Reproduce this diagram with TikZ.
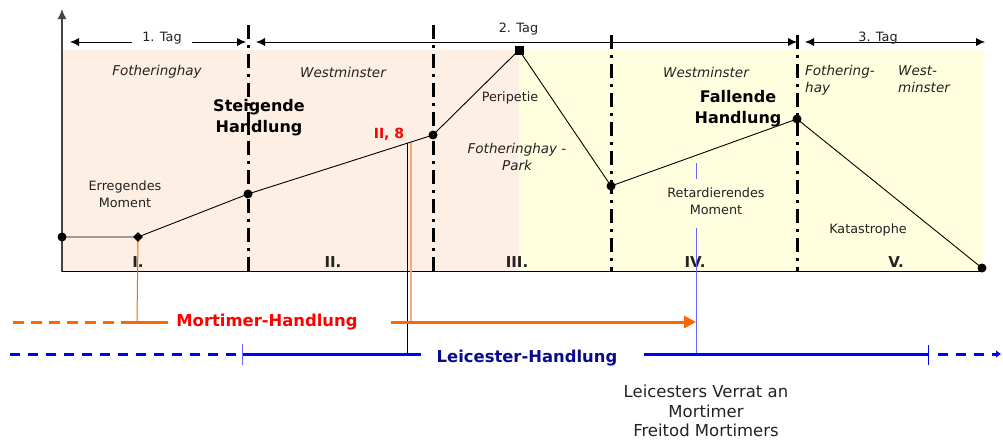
\documentclass[tikz,border=0pt]{standalone}
\usepackage{fontspec}
\setmainfont{DejaVu Sans}
\usetikzlibrary{arrows.meta}
\definecolor{peach}{HTML}{FDEFE3}
\definecolor{pale}{HTML}{FFFFE0}
\definecolor{morange}{HTML}{FF6600}
\definecolor{lorange}{HTML}{F6A878}
\definecolor{lblue}{HTML}{6666FF}
\definecolor{navy}{HTML}{0A0A8C}
\definecolor{txt}{HTML}{222222}
\definecolor{axisgray}{HTML}{444444}
\tikzset{
  divider/.style={line width=3pt, dash pattern=on 14pt off 6pt on 3pt off 6pt},
  curve/.style={line width=0.9pt},
  dot/.style={circle, fill, inner sep=0, minimum size=9pt},
  lbl/.style={font=\fontsize{12.8}{17}\selectfont, text=txt, align=center, inner sep=0},
  place/.style={font=\fontsize{13.5}{17}\selectfont\itshape, text=txt, inner sep=0},
  head/.style={font=\fontsize{16}{21}\selectfont\bfseries, align=center, inner sep=0},
  act/.style={font=\fontsize{15}{16}\selectfont\bfseries, text=txt, inner sep=0},
  dayarrow/.style={{Latex[length=9pt,width=8pt]}-{Latex[length=9pt,width=8pt]}, line width=0.8pt},
  thick3/.style={line width=3pt},
}
\begin{document}
\begin{tikzpicture}[x=1pt,y=-1pt]
\useasboundingbox (0,0) rectangle (1003,439);
% backgrounds
\fill[peach] (62,50) rectangle (519,271);
\fill[pale] (519,50) rectangle (983,271);
% axes
\draw[axisgray, line width=1.5pt, -{Latex[length=10pt,width=9pt]}] (62,272) -- (62,9);
\draw[line width=1.2pt] (62,271.5) -- (982,271.5);
% day arrows
\draw[dayarrow] (70,42) -- (246,42);
\node[lbl, fill=white, inner xsep=10pt, inner ysep=3pt] (tag1) at (162,38) {1. Tag};
\draw[dayarrow] (256,42) -- (797,42);
\node[lbl, fill=white, minimum width=85pt, minimum height=16pt] (tag2) at (518.5,29) {2. Tag};
\draw[dayarrow] (805,42) -- (985,42);
\node[lbl] (tag3) at (878,38) {3. Tag};
% dividers
\draw[divider] (248,25) -- (248,272);
\draw[divider] (433,25) -- (433,272);
\draw[divider] (611,35) -- (611,272);
\draw[divider] (797,35) -- (797,272);
% places
\node[place] (f1) at (157,72) {Fotheringhay};
\node[place] (w1) at (343,72) {Westminster};
\node[place, align=center] (fp) at (517,157) {Fotheringhay -\\Park};
\node[place] (w2) at (706,72) {Westminster};
\node[place, align=left, anchor=north west] (f3) at (805,65) {Fothering-\\hay};
\node[place, align=left, anchor=north west] (w3) at (898,65) {West-\\minster};
% labels
\node[head] (steig) at (259,118) {Steigende\\Handlung};
\node[head] (fall) at (738,109) {Fallende\\Handlung};
\node[lbl] (erreg) at (125,194) {Erregendes\\Moment};
\node[lbl] (peri) at (510,98) {Peripetie};
\node[lbl] (retard) at (716,201) {Retardierendes\\Moment};
\node[lbl] (kata) at (868,230) {Katastrophe};
\node[act] (a1) at (138,262) {I.};
\node[act] (a2) at (333,262) {II.};
\node[act] (a3) at (517,262) {III.};
\node[act] (a4) at (695,262) {IV.};
\node[act] (a5) at (896,262) {V.};
\node[font=\fontsize{14}{15}\selectfont\bfseries, text=red, inner sep=0] (ii8) at (389,134) {II, 8};
% plot
\coordinate (p0) at (62,237);
\coordinate (p1) at (138,237);
\coordinate (p2) at (248,194);
\coordinate (p3) at (433,135);
\coordinate (p4) at (519,50);
\coordinate (p5) at (611,186);
\coordinate (p6) at (797,119);
\coordinate (p7) at (982,268);
\coordinate (q8) at (407,143.3);
\coordinate (o8) at (411,142);
% verticals
\draw[morange, line width=1pt] (p1) -- (137,322);
\draw[lorange, line width=1.2pt] (o8) -- (411,322);
\draw[line width=0.8pt] (q8) -- (407,354);
\draw[lblue, line width=1pt] (696,163) -- (696,179);
\draw[lblue, line width=1pt] (696,228) -- (696,354);
\draw[curve] (p0) -- (p1) -- (p2) -- (p3) -- (p4) -- (p5) -- (p6) -- (p7);
\node[dot] (m0) at (p0) {};
\node[fill, inner sep=0, minimum size=7pt, rotate=45] (m1) at (p1) {};
\node[dot] (m2) at (p2) {};
\node[dot] (m3) at (p3) {};
\node[fill, inner sep=0, minimum size=9pt] (m4) at (p4) {};
\node[dot] (m5) at (p5) {};
\node[dot] (m6) at (p6) {};
\node[dot] (m7) at (p7) {};
% Mortimer line
\draw[morange, thick3, dash pattern=on 11pt off 7pt] (13,322) -- (126,322);
\draw[morange, thick3] (126,322) -- (168,322);
\node[font=\fontsize{16.4}{18}\selectfont\bfseries, text=red, inner sep=0] (mort) at (267,322) {Mortimer-Handlung};
\draw[morange, thick3, -{Triangle[length=12pt,width=12pt]}] (391,322) -- (696,322);
% Leicester line
\draw[blue, thick3, dash pattern=on 10pt off 8pt] (10,354) -- (240,354);
\draw[blue, thick3] (242,354) -- (421,354);
\draw[lblue, line width=1pt] (242,344) -- (242,365);
\node[font=\fontsize{16.4}{18}\selectfont\bfseries, text=navy, inner sep=0] (leic) at (527,358) {Leicester-Handlung};
\draw[blue, thick3] (644,354) -- (928,354);
\draw[blue, line width=1pt] (928,345) -- (928,365);
\draw[blue, thick3, dash pattern=on 10pt off 8pt, -{Latex[length=5pt,width=8pt]}] (938,354) -- (1001,354);
\node[font=\fontsize{16.5}{19.5}\selectfont, text=txt, align=center, inner sep=0] (verrat) at (706,411) {Leicesters Verrat an\\Mortimer\\Freitod Mortimers};
\end{tikzpicture}
\end{document}
